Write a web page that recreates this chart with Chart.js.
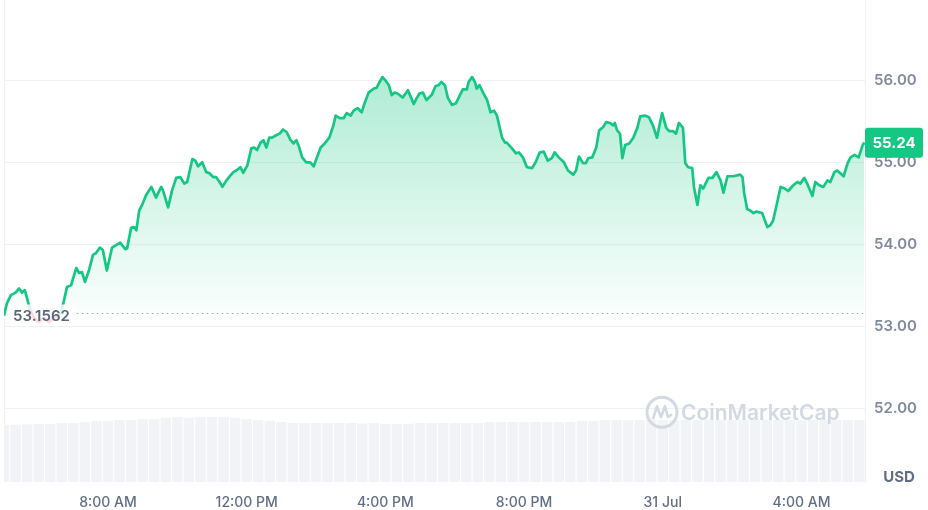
<!DOCTYPE html>
<html>
<head>
<meta charset="utf-8">
<script src="https://cdn.jsdelivr.net/npm/chart.js@4.4.1/dist/chart.umd.min.js"></script>
<style>
    html, body { margin: 0; padding: 0; background: #fff; }
    #wrap { width: 928px; height: 510px; position: relative; }
</style>
</head>
<body>
<div id="wrap"><canvas id="price-chart" width="928" height="510"></canvas></div>
<script>
// minutes since 00:00 on 30 Jul
const times = [
    300, 305, 312, 320, 326, 331, 336, 340, 345, 352, 360, 369, 378, 386, 395, 400, 404, 409, 416, 425,
    430, 435, 440, 447, 454, 459, 466, 471, 478, 487, 494, 501, 510, 513, 520, 525, 529, 534, 539, 546,
    555, 563, 572, 575, 584, 591, 598, 605, 612, 617, 626, 631, 636, 643, 650, 655, 662, 667, 673, 678,
    685, 692, 697, 702, 709, 714, 721, 728, 733, 738, 744, 749, 754, 759, 764, 771, 777, 783, 789, 796,
    801, 806, 810, 816, 823, 830, 836, 841, 848, 855, 863, 870, 874, 881, 888, 893, 900, 905, 912, 919,
    924, 931, 940, 945, 950, 955, 960, 966, 971, 976, 981, 990, 995, 999, 1005, 1009, 1014, 1019, 1025, 1031,
    1040, 1047, 1052, 1057, 1063, 1068, 1075, 1082, 1089, 1094, 1101, 1104, 1110, 1115, 1118, 1123, 1129, 1136, 1142, 1148,
    1153, 1162, 1167, 1170, 1179, 1186, 1191, 1198, 1205, 1214, 1220, 1227, 1234, 1241, 1248, 1253, 1260, 1269, 1276, 1285,
    1290, 1295, 1302, 1307, 1311, 1318, 1325, 1330, 1337, 1342, 1349, 1354, 1357, 1361, 1366, 1370, 1375, 1382, 1389, 1396,
    1401, 1409, 1416, 1423, 1430, 1436, 1439, 1446, 1451, 1458, 1463, 1468, 1475, 1479, 1484, 1491, 1494, 1500, 1505, 1510,
    1519, 1526, 1533, 1540, 1545, 1552, 1562, 1574, 1578, 1581, 1586, 1592, 1597, 1602, 1612, 1621, 1626, 1631, 1638, 1644,
    1651, 1657, 1666, 1673, 1678, 1685, 1690, 1699, 1704, 1711, 1718, 1725, 1730, 1737, 1742, 1753, 1760, 1765, 1772, 1779,
    1786, 1789
];
const prices = [
    53.13, 53.28, 53.38, 53.41, 53.46, 53.41, 53.44, 53.34, 53.20, 53.10, 53.05, 53.10, 53.05, 53.10, 53.13, 53.20, 53.32, 53.48, 53.50, 53.71,
    53.65, 53.66, 53.54, 53.68, 53.87, 53.89, 53.96, 53.93, 53.68, 53.96, 53.99, 54.02, 53.94, 53.95, 54.20, 54.21, 54.17, 54.41, 54.48, 54.60,
    54.70, 54.57, 54.70, 54.66, 54.45, 54.66, 54.81, 54.82, 54.74, 54.76, 55.04, 55.02, 54.95, 55.00, 54.88, 54.87, 54.82, 54.82, 54.76, 54.70,
    54.78, 54.84, 54.88, 54.90, 54.94, 54.87, 54.96, 55.17, 55.18, 55.15, 55.24, 55.27, 55.18, 55.30, 55.30, 55.33, 55.35, 55.40, 55.37, 55.27,
    55.23, 55.27, 55.20, 55.06, 55.00, 55.00, 54.95, 55.05, 55.18, 55.23, 55.30, 55.45, 55.57, 55.54, 55.54, 55.60, 55.57, 55.63, 55.66, 55.61,
    55.72, 55.85, 55.90, 55.91, 55.98, 56.04, 56.00, 55.94, 55.82, 55.85, 55.84, 55.79, 55.84, 55.88, 55.78, 55.71, 55.78, 55.84, 55.85, 55.76,
    55.82, 55.93, 55.94, 55.98, 55.94, 55.79, 55.70, 55.72, 55.82, 55.89, 55.89, 55.98, 56.04, 55.98, 55.90, 55.94, 55.85, 55.76, 55.61, 55.63,
    55.57, 55.30, 55.24, 55.24, 55.17, 55.11, 55.12, 55.06, 54.94, 54.93, 55.00, 55.12, 55.13, 55.02, 55.05, 55.12, 55.06, 55.00, 54.90, 54.85,
    54.90, 55.07, 54.99, 54.99, 55.05, 55.06, 55.18, 55.39, 55.43, 55.49, 55.48, 55.45, 55.48, 55.39, 55.35, 55.05, 55.21, 55.23, 55.30, 55.42,
    55.56, 55.57, 55.55, 55.45, 55.30, 55.51, 55.60, 55.42, 55.38, 55.38, 55.35, 55.48, 55.42, 54.99, 54.94, 54.93, 54.70, 54.48, 54.72, 54.68,
    54.81, 54.81, 54.88, 54.78, 54.63, 54.83, 54.83, 54.85, 54.82, 54.62, 54.43, 54.41, 54.38, 54.40, 54.38, 54.21, 54.23, 54.29, 54.51, 54.70,
    54.68, 54.65, 54.72, 54.76, 54.74, 54.81, 54.74, 54.59, 54.76, 54.72, 54.70, 54.78, 54.76, 54.88, 54.90, 54.83, 54.99, 55.06, 55.09, 55.06,
    55.21, 55.24
];
const volTimes = [
    300, 320, 340, 360, 380, 400, 420, 440, 460, 480, 500, 520, 540, 560, 580, 600, 620, 640, 660, 680,
    700, 720, 740, 760, 780, 800, 820, 840, 860, 880, 900, 920, 940, 960, 980, 1000, 1020, 1040, 1060, 1080,
    1100, 1120, 1140, 1160, 1180, 1200, 1220, 1240, 1260, 1280, 1300, 1320, 1340, 1360, 1380, 1400, 1420, 1440, 1460, 1480,
    1500, 1520, 1540, 1560, 1580, 1600, 1620, 1640, 1660, 1680, 1700, 1720, 1740, 1760, 1780
];
// volume, millions USD
const volumes = [
    1.90, 1.90, 1.91, 1.93, 1.93, 1.96, 1.96, 1.99, 2.03, 2.03, 2.06, 2.06, 2.09, 2.09, 2.13, 2.16, 2.13, 2.16, 2.16, 2.16,
    2.13, 2.09, 2.06, 2.03, 1.99, 1.96, 1.96, 1.96, 1.96, 1.96, 1.96, 1.94, 1.96, 1.93, 1.93, 1.93, 1.96, 1.96, 1.96, 1.96,
    1.96, 1.96, 1.99, 1.99, 1.99, 1.99, 1.99, 1.99, 1.99, 1.99, 2.03, 2.03, 2.06, 2.06, 2.05, 2.06, 2.07, 2.06, 2.05, 2.06,
    2.06, 2.07, 2.06, 2.05, 2.06, 2.06, 2.07, 2.06, 2.06, 2.05, 2.06, 2.06, 2.07, 2.06, 2.06
];
const xTicks = [480, 720, 960, 1200, 1440, 1680];
const xTickLabels = ['8:00 AM', '12:00 PM', '4:00 PM', '8:00 PM', '31 Jul', '4:00 AM'];
const yTicks = [52, 53, 54, 55, 56];
const basePrice = 53.1562;
const lastPrice = 55.24;

const green = '#16c784';
const red = '#ea3943';

Chart.defaults.font.family = 'Inter, "Noto Sans", sans-serif';

function greenFill(context) {
    const chart = context.chart;
    if (!chart.chartArea) {
        return 'rgba(22, 199, 132, 0.15)';
    }
    const yScale = chart.scales.y;
    const top = yScale.getPixelForValue(Math.max(...prices));
    const bottom = yScale.getPixelForValue(basePrice);
    const g = chart.ctx.createLinearGradient(0, top, 0, bottom);
    g.addColorStop(0, 'rgba(22, 199, 132, 0.34)');
    g.addColorStop(1, 'rgba(22, 199, 132, 0.02)');
    return g;
}

function noPadding(s) {
    s.paddingTop = 0;
    s.paddingBottom = 0;
    s.paddingLeft = 0;
    s.paddingRight = 0;
}

const overlayPlugin = {
    id: 'overlay',
    afterDatasetsDraw(chart) {
        const {ctx, chartArea, scales} = chart;
        const yBase = Math.round(scales.y.getPixelForValue(basePrice)) + 0.5;
        ctx.save();

        // watermark
        const wx = chartArea.right - 203;
        const wy = scales.y.getPixelForValue(52) + 4;
        ctx.strokeStyle = '#d3d9e3';
        ctx.lineWidth = 3;
        ctx.beginPath();
        ctx.arc(wx, wy, 15, 0, Math.PI * 2);
        ctx.stroke();
        ctx.lineWidth = 2.6;
        ctx.lineJoin = 'round';
        ctx.beginPath();
        ctx.moveTo(wx - 9, wy + 7);
        ctx.lineTo(wx - 5, wy - 6);
        ctx.lineTo(wx - 1, wy + 5);
        ctx.lineTo(wx + 3, wy - 6);
        ctx.lineTo(wx + 6, wy + 5);
        ctx.lineTo(wx + 10, wy + 2);
        ctx.stroke();
        ctx.fillStyle = '#d3d9e3';
        ctx.font = '600 21px Inter';
        ctx.textBaseline = 'middle';
        ctx.textAlign = 'left';
        ctx.fillText('CoinMarketCap', wx + 19, wy + 1);

        // dotted baseline
        ctx.font = '600 15px Inter';
        const label = basePrice.toFixed(4);
        const w = ctx.measureText(label).width;
        ctx.strokeStyle = '#9aa4b6';
        ctx.lineWidth = 1;
        ctx.setLineDash([1.5, 3.5]);
        ctx.beginPath();
        ctx.moveTo(chartArea.left + w + 16, yBase);
        ctx.lineTo(chartArea.right, yBase);
        ctx.stroke();
        ctx.setLineDash([]);

        // baseline label
        ctx.fillStyle = 'rgba(255, 255, 255, 0.82)';
        ctx.fillRect(chartArea.left + 4, yBase - 9, w + 10, 20);
        ctx.fillStyle = '#58667e';
        ctx.fillText(label, chartArea.left + 9, yBase + 3);
        ctx.restore();
    },
    afterDraw(chart) {
        const {ctx, chartArea, scales} = chart;
        const yLast = scales.y.getPixelForValue(lastPrice);
        ctx.save();
        // price tag
        ctx.fillStyle = green;
        ctx.beginPath();
        ctx.roundRect(chartArea.right, yLast - 15, 58, 30, 3);
        ctx.fill();
        ctx.fillStyle = '#fff';
        ctx.font = '700 15px Inter';
        ctx.textAlign = 'center';
        ctx.textBaseline = 'middle';
        ctx.fillText(lastPrice.toFixed(2), chartArea.right + 29, yLast + 1);
        // currency
        ctx.fillStyle = '#616e85';
        ctx.font = '700 15px Inter';
        ctx.fillText('USD', chartArea.right + 34, chartArea.bottom - 5);
        ctx.restore();
    }
};

const priceData = times.map((t, i) => ({x: t, y: prices[i]}));
const volumeData = volTimes.map((t, i) => ({x: t, y: volumes[i]}));

new Chart(document.getElementById('price-chart'), {
    type: 'line',
    data: {
        datasets: [{
            type: 'line',
            data: priceData,
            borderColor: green,
            borderWidth: 2.7,
            borderJoinStyle: 'round',
            backgroundColor: greenFill,
            fill: {value: basePrice, below: 'rgba(234, 57, 67, 0.08)'},
            pointRadius: 0,
            tension: 0,
            order: 0,
            segment: {
                borderColor: ctx => (ctx.p0.parsed.y + ctx.p1.parsed.y) / 2 < basePrice ? red : undefined
            }
        }, {
            type: 'bar',
            data: volumeData,
            yAxisID: 'yv',
            backgroundColor: '#f1f3f6',
            barPercentage: 0.9,
            categoryPercentage: 1,
            order: 1
        }]
    },
    options: {
        responsive: false,
        animation: false,
        layout: {padding: 0},
        plugins: {
            legend: {display: false},
            tooltip: {enabled: false}
        },
        scales: {
            x: {
                type: 'linear',
                min: 300,
                max: 1790,
                offset: false,
                afterBuildTicks: s => { s.ticks = xTicks.map(v => ({value: v})); },
                afterFit: s => { s.height = 28; noPadding(s); },
                grid: {display: false},
                border: {display: false},
                ticks: {
                    autoSkip: false,
                    maxRotation: 0,
                    padding: 4,
                    color: '#616e85',
                    font: {size: 14, weight: '500'},
                    callback: (v, i) => xTickLabels[i]
                }
            },
            y: {
                position: 'right',
                min: 51.1,
                max: 56.98,
                afterBuildTicks: s => { s.ticks = yTicks.map(v => ({value: v})); },
                afterFit: s => { s.width = 63; noPadding(s); },
                grid: {color: '#eff2f5', drawTicks: false},
                border: {display: true, color: '#eff2f5'},
                ticks: {
                    padding: 9,
                    color: '#808a9d',
                    font: {size: 15, weight: '600'},
                    callback: v => v.toFixed(2)
                }
            },
            yv: {
                position: 'left',
                min: 0,
                max: 16,
                afterFit: s => { s.width = 4; noPadding(s); },
                grid: {display: false, drawTicks: false},
                border: {display: true, color: '#eff2f5'},
                ticks: {display: false}
            }
        }
    },
    plugins: [overlayPlugin]
});
</script>
</body>
</html>
